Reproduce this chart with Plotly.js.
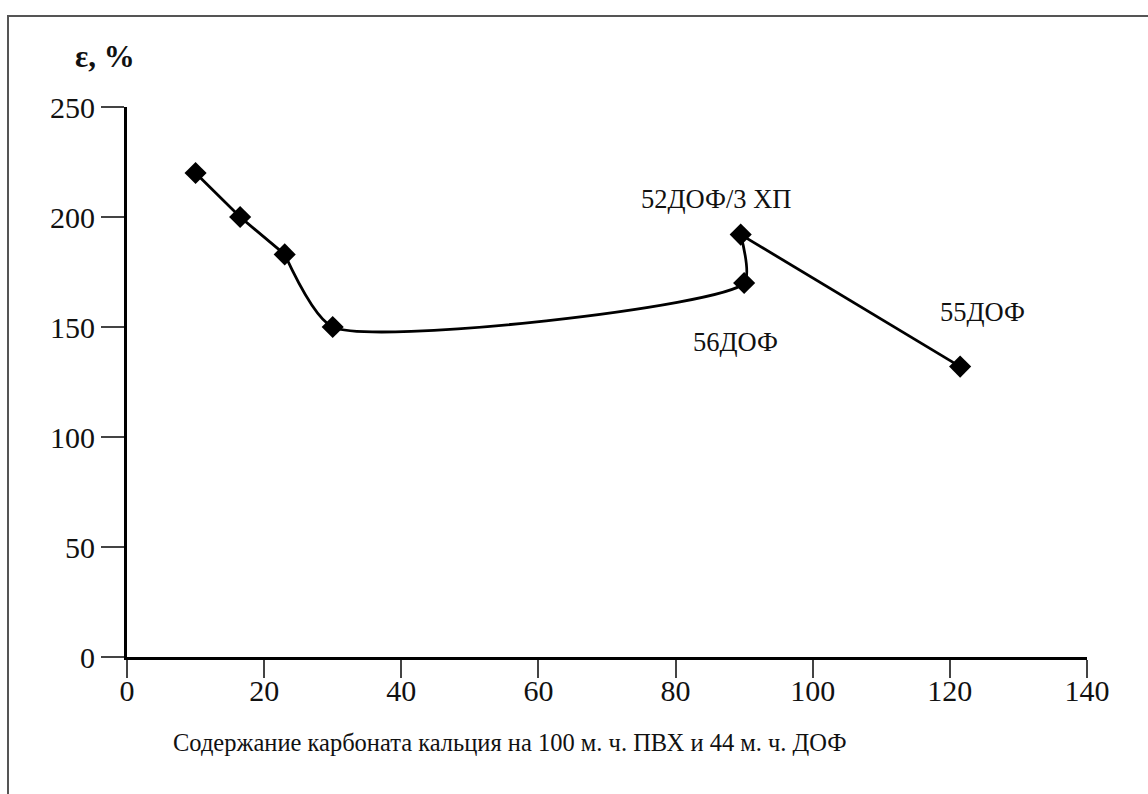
<!DOCTYPE html>
<html>
<head>
<meta charset="utf-8">
<script src="https://cdn.plot.ly/plotly-3.0.1.min.js"></script>
<style>
  html, body { margin: 0; padding: 0; background: #fff; }
  #frame { position: absolute; left: 7px; top: 15px; width: 1141px; height: 779px;
           border-left: 2px solid #555; border-top: 2px solid #555; box-sizing: border-box; }
  #chart { position: absolute; left: 0; top: 0; width: 1148px; height: 794px; }
</style>
</head>
<body>
<div id="frame"></div>
<div id="chart"></div>
<script>
// Data
const xValues = [10, 16.5, 23, 30, 90, 89.5, 121.5];
const yValues = [220, 200, 183, 150, 170, 192, 132];

const labelNames = ["52ДОФ/3 ХП", "56ДОФ", "55ДОФ"];
const labelX = [86, 88.8, 124.7];
const labelY = [208, 143, 157];

const xTickValues = [0, 20, 40, 60, 80, 100, 120, 140];
const yTickValues = [0, 50, 100, 150, 200, 250];

const xTitle = "Содержание карбоната кальция на 100 м. ч. ПВХ и 44 м. ч. ДОФ";
const yTitle = "ε, %";

const serif = "Liberation Serif";

// segments: straight start, smooth middle, straight end
const segA = [0, 3], segB = [2, 6], segC = [5, 7];
function seg(s, shape) {
  return {
    x: xValues.slice(s[0], s[1]), y: yValues.slice(s[0], s[1]), type: "scatter", mode: "lines",
    line: { color: "#000", width: 2.8, shape: shape, smoothing: 0.6 },
    hoverinfo: "skip", showlegend: false
  };
}

const traces = [
  seg(segA, "linear"), seg(segB, "spline"), seg(segC, "linear"),
  {
    x: xValues, y: yValues, type: "scatter", mode: "markers",
    marker: { symbol: "diamond", size: 17, color: "#000" },
    showlegend: false
  }
];

const annotations = labelNames.map((t, i) => ({
  x: labelX[i], y: labelY[i], xref: "x", yref: "y", text: t, showarrow: false,
  xanchor: "center", yanchor: "middle",
  font: { family: serif, size: 26.5, color: "#111" }
}));
annotations.push({
  x: 0.399, y: -0.155, xref: "paper", yref: "paper", text: xTitle, showarrow: false,
  xanchor: "center", yanchor: "middle",
  font: { family: serif, size: 24.5, color: "#111" }
});
annotations.push({
  x: -0.023, y: 1.092, xref: "paper", yref: "paper", text: "<b>" + yTitle + "</b>", showarrow: false,
  xanchor: "center", yanchor: "middle",
  font: { family: serif, size: 31, color: "#111" }
});

const layout = {
  width: 1148, height: 794,
  margin: { l: 127, r: 61, t: 107, b: 137 },
  paper_bgcolor: "rgba(0,0,0,0)", plot_bgcolor: "rgba(0,0,0,0)",
  showlegend: false,
  xaxis: {
    range: [0, 140], tickvals: xTickValues, ticks: "outside", ticklen: 18, tickwidth: 2,
    tickcolor: "#444", showgrid: false, zeroline: false, showline: true, linecolor: "#000",
    linewidth: 3, tickfont: { family: serif, size: 30, color: "#111" }, fixedrange: true,
    ticklabelstandoff: -13
  },
  yaxis: {
    range: [0, 250], tickvals: yTickValues, ticks: "outside", ticklen: 23, tickwidth: 2,
    tickcolor: "#444", showgrid: false, zeroline: false, showline: true, linecolor: "#000",
    linewidth: 3, tickfont: { family: serif, size: 30, color: "#111" }, fixedrange: true,
    ticklabelstandoff: 0
  },
  annotations: annotations
};

Plotly.newPlot("chart", traces, layout, { displayModeBar: false, staticPlot: true });
</script>
</body>
</html>
